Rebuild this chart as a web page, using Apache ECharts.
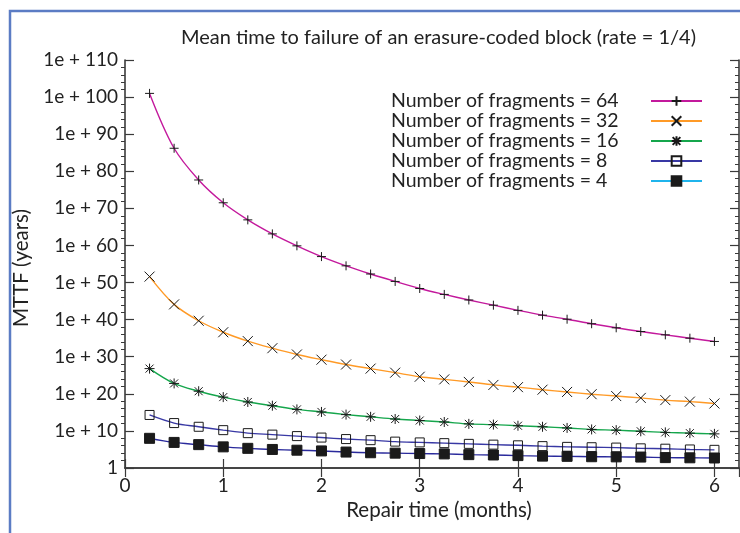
<!DOCTYPE html>
<html>
<head>
<meta charset="utf-8">
<script src="https://cdn.jsdelivr.net/npm/echarts@6/dist/echarts.min.js"></script>
<style>
  html, body { margin: 0; padding: 0; background: #fff; }
  #chart { width: 740px; height: 533px; }
</style>
</head>
<body>
<div id="chart"></div>
<script>
// repair time in months
var repairTime = [0.25, 0.5, 0.75, 1, 1.25, 1.5, 1.75, 2, 2.25, 2.5, 2.75, 3,
                  3.25, 3.5, 3.75, 4, 4.25, 4.5, 4.75, 5, 5.25, 5.5, 5.75, 6];

// MTTF in years, one list per number of fragments
var mttf64 = [1e101, 1.6e86, 4.5e77, 3.2e71, 7.9e66, 1.3e63, 7.9e59, 1e57, 3.2e54, 2e52, 2e50, 2.5e48,
              6.3e46, 2e45, 7.9e43, 3.2e42, 1.6e41, 1.3e40, 7.9e38, 6.3e37, 6.3e36, 7.9e35, 1e35, 1.3e34];
var mttf32 = [4e51, 1.3e44, 5e39, 4e36, 1.6e34, 2e32, 4e30, 1.6e29, 7.9e27, 6.3e26, 5e25, 4e24,
              7.9e23, 1.6e23, 2.5e22, 6.3e21, 1.3e21, 3.2e20, 7.9e19, 2.5e19, 7.9e18, 2e18, 7.9e17, 2.5e17];
var mttf16 = [6.3e26, 6.3e22, 5e20, 1.3e19, 6.3e17, 6.3e16, 6.3e15, 1.3e15, 2.5e14, 6.3e13, 1.6e13, 6.3e12,
              2.5e12, 7.9e11, 5e11, 2.5e11, 1.3e11, 6.3e10, 2.5e10, 1.6e10, 7.9e9, 4e9, 2.5e9, 1.6e9];
var mttf8  = [2e14, 1.3e12, 1.3e11, 1.6e10, 2.5e9, 1e9, 4e8, 1.6e8, 6.3e7, 3.2e7, 1.3e7, 7.9e6,
              5e6, 3.2e6, 2e6, 1.3e6, 7.9e5, 5e5, 4e5, 3.2e5, 2e5, 1.6e5, 1e5, 7.9e4];
var mttf4  = [1e8, 7.9e6, 2e6, 5e5, 2e5, 1e5, 6.3e4, 4e4, 2e4, 1.3e4, 1e4, 7.9e3,
              6.3e3, 4e3, 3.2e3, 2.2e3, 1.6e3, 1.4e3, 1.1e3, 1e3, 890, 630, 560, 500];

var seriesNames = ['Number of fragments = 64', 'Number of fragments = 32', 'Number of fragments = 16',
                   'Number of fragments = 8', 'Number of fragments = 4'];

var FONT = 'Lato';
var TXT = '#222';
var AX = '#3a3a3a';

// gnuplot-like point types
var PLUS = 'path://M0,5H10M5,0V10';
var CROSS = 'path://M0,0L10,10M10,0L0,10';
var STAR = 'path://M0,5H10M5,0V10M1,1L9,9M9,1L1,9';

function pairs(ys) {
    return repairTime.map(function (x, i) { return [x, ys[i]]; });
}

function expLabel(v) {
    var e = Math.round(Math.log10(v));
    return e === 0 ? '1' : '1e + ' + e;
}

function line(name, ys, color, symbol, size, filled) {
    return {
        name: name,
        type: 'line',
        data: pairs(ys),
        smooth: 0.35,
        symbol: symbol,
        symbolSize: size,
        showAllSymbol: true,
        lineStyle: { color: color, width: 1.4 },
        itemStyle: {
            color: filled ? '#1a1a1a' : 'rgba(0,0,0,0)',
            borderColor: '#1a1a1a',
            borderWidth: 1
        },
        emphasis: { disabled: true }
    };
}

var option = {
    backgroundColor: '#fff',
    animation: false,
    textStyle: { fontFamily: FONT },
    title: {
        text: 'Mean time to failure of an erasure-coded block (rate = 1/4)',
        left: 181,
        top: 28,
        padding: 0,
        textStyle: { fontFamily: FONT, fontSize: 20, fontWeight: 'normal', color: TXT }
    },
    legend: {
        orient: 'vertical',
        left: 391,
        top: 91,
        padding: 0,
        align: 'right',
        itemWidth: 51,
        itemHeight: 12,
        itemGap: 0,
        selectedMode: false,
        formatter: function (name) { return '{t|' + name + '}'; },
        textStyle: {
            fontFamily: FONT, fontSize: 19.5, color: TXT,
            rich: { t: { width: 255, align: 'left', fontFamily: FONT, fontSize: 19.5, lineHeight: 20, color: TXT } }
        },
        data: [
            { name: seriesNames[0] },
            { name: seriesNames[1] },
            { name: seriesNames[2] },
            { name: seriesNames[3] },
            { name: seriesNames[4], lineStyle: { color: '#1fb4ec' } }
        ]
    },
    grid: { left: 125, top: 60, right: 1, bottom: 65, containLabel: false, outerBoundsMode: 'none' },
    xAxis: [
        {
            type: 'value', min: 0, max: 6.25, interval: 1,
            name: 'Repair time (months)', nameLocation: 'middle', nameGap: 31,
            nameTextStyle: { fontFamily: FONT, fontSize: 20.5, color: TXT, padding: [0, 0, 0, 14] },
            axisLine: { lineStyle: { color: AX, width: 1.6 } },
            axisTick: { inside: true, length: 9, lineStyle: { color: AX, width: 1.2 } },
            axisLabel: { fontFamily: FONT, fontSize: 19, color: TXT, margin: 8, showMaxLabel: false },
            splitLine: { show: false }
        },
        {
            type: 'value', min: 0, max: 6.25, interval: 1, position: 'top',
            axisLine: { lineStyle: { color: AX, width: 1.6 } },
            axisTick: { inside: true, length: 9, lineStyle: { color: AX, width: 1.2 } },
            axisLabel: { show: false },
            splitLine: { show: false }
        }
    ],
    yAxis: [
        {
            type: 'log', logBase: 1e10, min: 1, max: 1e110, splitNumber: 11, interval: 1,
            position: 'left',
            name: 'MTTF (years)', nameLocation: 'middle', nameGap: 86, nameRotate: 90,
            nameTextStyle: { fontFamily: FONT, fontSize: 20.5, color: TXT, padding: [0, 8, 0, 0] },
            axisLine: { show: true, lineStyle: { color: AX, width: 1.6 } },
            axisTick: { show: true, inside: true, length: 9, lineStyle: { color: AX, width: 1.2 } },
            axisLabel: { fontFamily: FONT, fontSize: 19, color: TXT, margin: 7, formatter: expLabel },
            splitLine: { show: false }
        },
        {
            // minor ticks every two decades on the left
            type: 'value', min: 0, max: 110, interval: 10, position: 'left',
            axisLine: { show: false },
            axisTick: { show: false },
            minorTick: { show: true, splitNumber: 5, length: 4, lineStyle: { color: AX, width: 1 } },
            axisLabel: { show: false },
            splitLine: { show: false }
        },
        {
            type: 'value', min: 0, max: 110, interval: 10, position: 'right',
            axisLine: { show: true, lineStyle: { color: AX, width: 1.6 } },
            axisTick: { show: true, inside: true, length: 9, lineStyle: { color: AX, width: 1.2 } },
            minorTick: { show: true, splitNumber: 5, length: 4, lineStyle: { color: AX, width: 1 } },
            axisLabel: { show: false },
            splitLine: { show: false }
        }
    ],
    graphic: [
        {
            type: 'polyline',
            shape: { points: [[10, 533], [10, 11], [740, 11]] },
            style: { stroke: '#5b7cc4', lineWidth: 2.5, fill: null }
        }
    ],
    series: [
        line(seriesNames[0], mttf64, '#c3199c', PLUS, 9, false),
        line(seriesNames[1], mttf32, '#ff9a26', CROSS, 10, false),
        line(seriesNames[2], mttf16, '#15a64c', STAR, 10, false),
        line(seriesNames[3], mttf8, '#3838a4', 'rect', 9, false),
        line(seriesNames[4], mttf4, '#2a2a9c', 'rect', 10, true)
    ]
};

var myChart = echarts.init(document.getElementById('chart'));
myChart.setOption(option);
</script>
</body>
</html>
